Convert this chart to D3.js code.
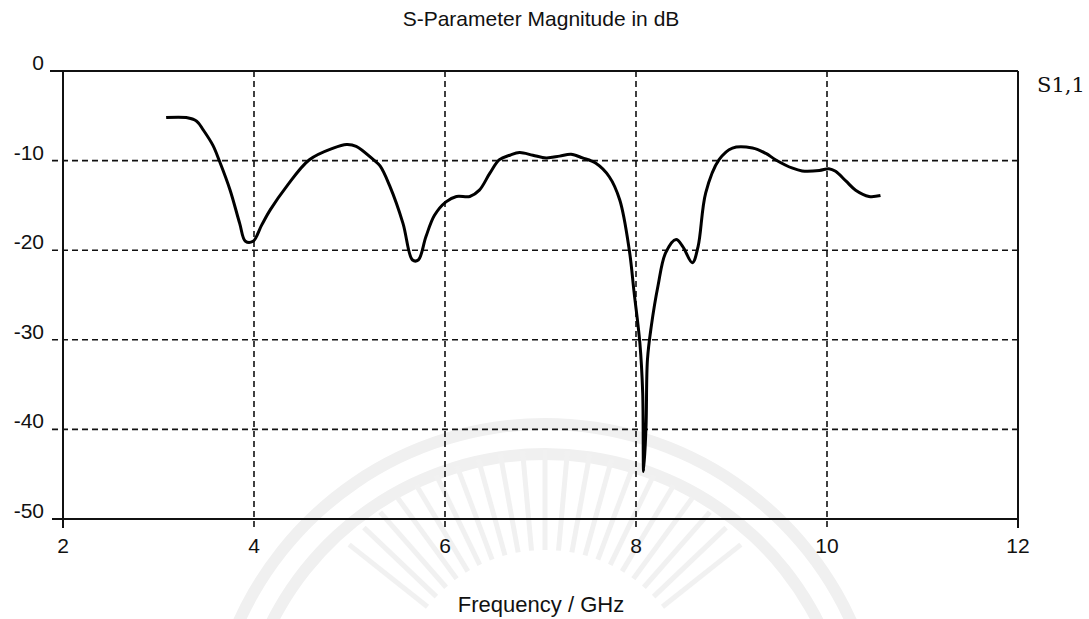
<!DOCTYPE html>
<html>
<head>
<meta charset="utf-8">
<script src="https://cdn.jsdelivr.net/npm/d3@7"></script>
<style>
  body { margin: 0; background: #fff; }
  svg { display: block; }
  text { font-family: "Liberation Sans", Arial, sans-serif; fill: #111; }
</style>
</head>
<body>
<div id="chart"></div>
<script>
// S1,1 readings (GHz, dB)
var freq = [3.08, 3.29, 3.40, 3.47, 3.57, 3.64, 3.75, 3.85, 3.91, 3.99, 4.08, 4.17, 4.34, 4.58, 4.83, 4.97, 5.07, 5.25, 5.32, 5.42, 5.56, 5.66, 5.72, 5.80, 5.89, 6.01, 6.12, 6.26, 6.36, 6.47, 6.57, 6.68, 6.78, 6.92, 7.06, 7.20, 7.32, 7.44, 7.58, 7.72, 7.83, 7.93, 7.98, 8.04, 8.07, 8.08, 8.105, 8.12, 8.16, 8.23, 8.31, 8.42, 8.49, 8.59, 8.65, 8.73, 8.87, 9.01, 9.22, 9.36, 9.46, 9.64, 9.74, 9.92, 10.02, 10.09, 10.20, 10.30, 10.44, 10.56];
var s11 = [-5.2, -5.2, -5.6, -6.6, -8.3, -10.1, -13.3, -17.0, -19.0, -19.0, -17.2, -15.5, -12.9, -9.9, -8.6, -8.2, -8.4, -9.9, -10.6, -12.8, -17.0, -21.1, -21.1, -18.5, -16.1, -14.6, -14.0, -14.0, -13.3, -11.4, -9.9, -9.4, -9.1, -9.4, -9.7, -9.5, -9.3, -9.7, -10.3, -11.8, -14.4, -20.0, -24.7, -30.3, -35.9, -44.7, -39.7, -32.2, -28.5, -24.0, -20.3, -18.8, -19.6, -21.4, -19.6, -13.6, -9.9, -8.6, -8.6, -9.2, -9.9, -10.85, -11.15, -11.1, -10.9, -11.2, -12.3, -13.3, -14.0, -13.9];

var xTicks = [2, 4, 6, 8, 10, 12];
var yTicks = [0, -10, -20, -30, -40, -50];
var seriesName = "S1,1";
var chartTitle = "S-Parameter Magnitude in dB";
var xTitle = "Frequency / GHz";

var width = 1089, height = 619;
var margin = { top: 71, left: 63, bottom: 100, right: 71 };

var svg = d3.select("#chart").append("svg")
  .attr("width", width)
  .attr("height", height);

// faint watermark behind the plot
var wm = svg.append("g").attr("fill", "none").attr("stroke", "#f1f1f1");
var wmArc = d3.arc();
[[330, 342], [300, 312]].forEach(function (r) {
  wm.append("path")
    .attr("transform", "translate(545,760)")
    .attr("fill", "#f0f0f0")
    .attr("stroke", "none")
    .attr("d", wmArc({ innerRadius: r[0], outerRadius: r[1], startAngle: -1.2, endAngle: 1.2 }));
});
d3.range(-0.9, 0.91, 0.09).forEach(function (a) {
  wm.append("line")
    .attr("x1", 545 + 150 * Math.sin(a)).attr("y1", 700 - 150 * Math.cos(a))
    .attr("x2", 545 + 250 * Math.sin(a)).attr("y2", 700 - 250 * Math.cos(a))
    .attr("stroke-width", 5);
});

var x = d3.scaleLinear().domain([2, 12]).range([margin.left, width - margin.right]);
var y = d3.scaleLinear().domain([-50, 0]).range([height - margin.bottom, margin.top]);

var x0 = x(2), x1 = x(12), yTop = y(0), yBot = y(-50);

// dashed grid
var grid = svg.append("g")
  .attr("stroke", "#111")
  .attr("stroke-width", 1.6)
  .attr("stroke-dasharray", "6,4");

grid.selectAll(".gx")
  .data(xTicks.filter(function (d) { return d > 2 && d < 12; }))
  .enter().append("line")
  .attr("x1", function (d) { return x(d); })
  .attr("x2", function (d) { return x(d); })
  .attr("y1", yTop)
  .attr("y2", yBot + 9);

grid.selectAll(".gy")
  .data(yTicks.filter(function (d) { return d < 0 && d > -50; }))
  .enter().append("line")
  .attr("x1", x0 - 11)
  .attr("x2", x1)
  .attr("y1", function (d) { return y(d); })
  .attr("y2", function (d) { return y(d); });

// frame
var frame = svg.append("g").attr("stroke", "#111").attr("stroke-width", 2);
frame.append("line").attr("x1", x0 - 13).attr("x2", x1).attr("y1", yTop).attr("y2", yTop);
frame.append("line").attr("x1", x0 - 11).attr("x2", x1).attr("y1", yBot).attr("y2", yBot);
frame.append("line").attr("x1", x0).attr("x2", x0).attr("y1", yTop).attr("y2", yBot + 9);
frame.append("line").attr("x1", x1).attr("x2", x1).attr("y1", yTop).attr("y2", yBot + 9);

// tick labels
svg.append("g").selectAll("text")
  .data(xTicks)
  .enter().append("text")
  .attr("x", function (d) { return x(d); })
  .attr("y", yBot + 34)
  .attr("text-anchor", "middle")
  .style("font-size", "21px")
  .text(function (d) { return d; });

svg.append("g").selectAll("text")
  .data(yTicks)
  .enter().append("text")
  .attr("x", 44)
  .attr("y", function (d) { return y(d) - 1; })
  .attr("text-anchor", "end")
  .style("font-size", "21px")
  .text(function (d) { return d; });

// curve
var line = d3.line()
  .x(function (d, i) { return x(freq[i]); })
  .y(function (d) { return y(d); })
  .curve(d3.curveCatmullRom.alpha(0.5));

svg.append("path")
  .datum(s11)
  .attr("fill", "none")
  .attr("stroke", "#000")
  .attr("stroke-width", 3)
  .attr("stroke-linejoin", "round")
  .attr("d", line);

// titles
svg.append("text")
  .attr("x", 541)
  .attr("y", 26)
  .attr("text-anchor", "middle")
  .style("font-size", "21px")
  .text(chartTitle);

svg.append("text")
  .attr("x", 541)
  .attr("y", 612)
  .attr("text-anchor", "middle")
  .style("font-size", "22px")
  .text(xTitle);

svg.append("text")
  .attr("x", 1037)
  .attr("y", 92)
  .style("font-family", "'DejaVu Serif', serif")
  .style("font-size", "21px")
  .text(seriesName);
</script>
</body>
</html>
